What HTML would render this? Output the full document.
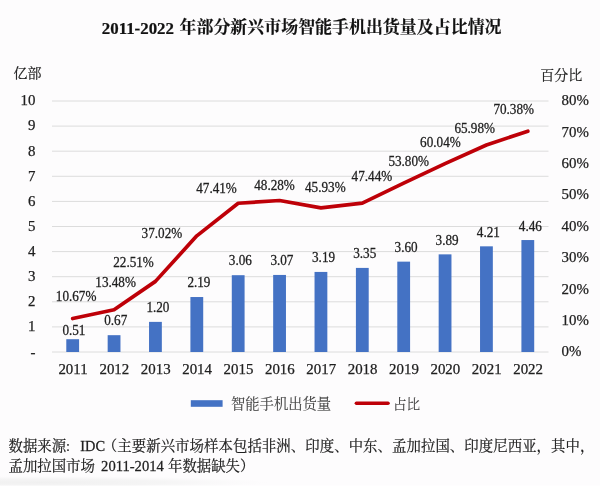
<!DOCTYPE html>
<html><head><meta charset="utf-8"><title>chart</title>
<style>
html,body{margin:0;padding:0;background:#fdfcfd;}
body{width:600px;height:487px;overflow:hidden;font-family:"Liberation Serif",serif;}
svg{display:block;will-change:transform;filter:blur(0.4px);}
</style></head><body>
<svg width="600" height="487" viewBox="0 0 600 487">
<defs><radialGradient id="sh" cx="0.5" cy="0.5" r="0.5"><stop offset="0" stop-color="#f0f0f0"/><stop offset="0.55" stop-color="#f3f3f3" stop-opacity="0.8"/><stop offset="1" stop-color="#f6f6f6" stop-opacity="0"/></radialGradient></defs>
<rect width="600" height="487" fill="#fdfcfd"/>
<ellipse cx="40" cy="482.5" rx="230" ry="6.5" fill="url(#sh)"/>
<rect y="485.6" width="600" height="1.4" fill="#fff"/>
<g stroke="#dcdcdc" stroke-width="1">
<line x1="52.0" y1="352.00" x2="548.5" y2="352.00"/>
<line x1="52.0" y1="326.90" x2="548.5" y2="326.90"/>
<line x1="52.0" y1="301.80" x2="548.5" y2="301.80"/>
<line x1="52.0" y1="276.70" x2="548.5" y2="276.70"/>
<line x1="52.0" y1="251.60" x2="548.5" y2="251.60"/>
<line x1="52.0" y1="226.50" x2="548.5" y2="226.50"/>
<line x1="52.0" y1="201.40" x2="548.5" y2="201.40"/>
<line x1="52.0" y1="176.30" x2="548.5" y2="176.30"/>
<line x1="52.0" y1="151.20" x2="548.5" y2="151.20"/>
<line x1="52.0" y1="126.10" x2="548.5" y2="126.10"/>
<line x1="52.0" y1="101.00" x2="548.5" y2="101.00"/>
</g>
<g fill="#4472c4">
<rect x="66.29" y="339.20" width="12.80" height="12.80"/>
<rect x="107.66" y="335.18" width="12.80" height="16.82"/>
<rect x="149.04" y="321.88" width="12.80" height="30.12"/>
<rect x="190.41" y="297.03" width="12.80" height="54.97"/>
<rect x="231.79" y="275.19" width="12.80" height="76.81"/>
<rect x="273.16" y="274.94" width="12.80" height="77.06"/>
<rect x="314.54" y="271.93" width="12.80" height="80.07"/>
<rect x="355.91" y="267.91" width="12.80" height="84.09"/>
<rect x="397.29" y="261.64" width="12.80" height="90.36"/>
<rect x="438.66" y="254.36" width="12.80" height="97.64"/>
<rect x="480.04" y="246.33" width="12.80" height="105.67"/>
<rect x="521.41" y="240.05" width="12.80" height="111.95"/>
</g>
<polyline points="72.69,318.52 114.06,309.71 155.44,281.37 196.81,235.85 238.19,203.25 279.56,200.52 320.94,207.89 362.31,203.16 403.69,183.20 445.06,163.62 486.44,144.99 527.81,131.18" fill="none" stroke="#be0008" stroke-width="3.7" stroke-linejoin="round" stroke-linecap="round"/>
<g font-family="'Liberation Serif', serif" fill="#202020" stroke="#202020" stroke-width="0.25">
<g font-size="14.9" text-anchor="end">
<text transform="translate(35.50,331.20) scale(1,1.0)">1</text>
<text transform="translate(35.50,306.10) scale(1,1.0)">2</text>
<text transform="translate(35.50,281.00) scale(1,1.0)">3</text>
<text transform="translate(35.50,255.90) scale(1,1.0)">4</text>
<text transform="translate(35.50,230.80) scale(1,1.0)">5</text>
<text transform="translate(35.50,205.70) scale(1,1.0)">6</text>
<text transform="translate(35.50,180.60) scale(1,1.0)">7</text>
<text transform="translate(35.50,155.50) scale(1,1.0)">8</text>
<text transform="translate(35.50,130.40) scale(1,1.0)">9</text>
<text transform="translate(35.50,105.30) scale(1,1.0)">10</text>
<text transform="translate(35.40,356.80) scale(1,1.0)">-</text>
</g>
<g font-size="14.9">
<text transform="translate(561.60,356.30) scale(1,1.0)">0%</text>
<text transform="translate(561.60,324.93) scale(1,1.0)">10%</text>
<text transform="translate(561.60,293.55) scale(1,1.0)">20%</text>
<text transform="translate(561.60,262.18) scale(1,1.0)">30%</text>
<text transform="translate(561.60,230.80) scale(1,1.0)">40%</text>
<text transform="translate(561.60,199.43) scale(1,1.0)">50%</text>
<text transform="translate(561.60,168.05) scale(1,1.0)">60%</text>
<text transform="translate(561.60,136.68) scale(1,1.0)">70%</text>
<text transform="translate(561.60,105.30) scale(1,1.0)">80%</text>
</g>
<g font-size="14.9" text-anchor="middle">
<text transform="translate(72.99,374.20) scale(1,1.0)">2011</text>
<text transform="translate(114.36,374.20) scale(1,1.0)">2012</text>
<text transform="translate(155.74,374.20) scale(1,1.0)">2013</text>
<text transform="translate(197.11,374.20) scale(1,1.0)">2014</text>
<text transform="translate(238.49,374.20) scale(1,1.0)">2015</text>
<text transform="translate(279.86,374.20) scale(1,1.0)">2016</text>
<text transform="translate(321.24,374.20) scale(1,1.0)">2017</text>
<text transform="translate(362.61,374.20) scale(1,1.0)">2018</text>
<text transform="translate(403.99,374.20) scale(1,1.0)">2019</text>
<text transform="translate(445.36,374.20) scale(1,1.0)">2020</text>
<text transform="translate(486.74,374.20) scale(1,1.0)">2021</text>
<text transform="translate(528.11,374.20) scale(1,1.0)">2022</text>
</g>
<g font-size="13.2">
<text transform="translate(55.80,301.40) scale(1,1.03)">10.67%</text>
<text transform="translate(95.30,287.20) scale(1,1.03)">13.48%</text>
<text transform="translate(113.20,266.70) scale(1,1.03)">22.51%</text>
<text transform="translate(141.60,237.70) scale(1,1.03)">37.02%</text>
<text transform="translate(196.20,193.00) scale(1,1.03)">47.41%</text>
<text transform="translate(254.20,190.30) scale(1,1.03)">48.28%</text>
<text transform="translate(305.00,192.00) scale(1,1.03)">45.93%</text>
<text transform="translate(351.60,180.60) scale(1,1.03)">47.44%</text>
<text transform="translate(388.40,165.60) scale(1,1.03)">53.80%</text>
<text transform="translate(420.10,146.80) scale(1,1.03)">60.04%</text>
<text transform="translate(454.40,133.00) scale(1,1.03)">65.98%</text>
<text transform="translate(493.40,113.60) scale(1,1.03)">70.38%</text>
<text transform="translate(62.40,335.40) scale(1,1.03)">0.51</text>
<text transform="translate(104.20,324.70) scale(1,1.03)">0.67</text>
<text transform="translate(146.40,312.00) scale(1,1.03)">1.20</text>
<text transform="translate(187.40,286.60) scale(1,1.03)">2.19</text>
<text transform="translate(228.80,265.30) scale(1,1.03)">3.06</text>
<text transform="translate(270.40,265.30) scale(1,1.03)">3.07</text>
<text transform="translate(312.00,261.60) scale(1,1.03)">3.19</text>
<text transform="translate(353.20,257.80) scale(1,1.03)">3.35</text>
<text transform="translate(394.60,251.60) scale(1,1.03)">3.60</text>
<text transform="translate(435.60,244.80) scale(1,1.03)">3.89</text>
<text transform="translate(476.80,236.60) scale(1,1.03)">4.21</text>
<text transform="translate(518.80,230.60) scale(1,1.03)">4.46</text>
</g>
<text transform="translate(101.80,33.80) scale(1,0.93)" font-size="16.9" font-weight="bold" fill="#111">2011-2022</text>
<text transform="translate(80.20,451.00) scale(1,1.04)" font-size="14.4">IDC</text>
<text transform="translate(101.10,470.60) scale(1,1.05)" font-size="14.6">2011-2014</text>
</g>
<g fill="#202020" stroke="#202020" stroke-width="0.2" font-family="'Liberation Serif', 'Noto Serif CJK SC', serif">
<text x="179.5" y="33.4" font-size="16.9" font-weight="bold" fill="#111" stroke="#111" textLength="322" lengthAdjust="spacing">年部分新兴市场智能手机出货量及占比情况</text>
<text x="13.6" y="77.6" font-size="14">亿部</text>
<text x="540.2" y="79.8" font-size="14">百分比</text>
<text x="231" y="408.6" font-size="14.3" fill="#444" stroke="#444" stroke-width="0.1">智能手机出货量</text>
<text x="393" y="408.5" font-size="13.6" fill="#444" stroke="#444" stroke-width="0.1">占比</text>
<text x="8.5" y="451.2" font-size="14.4">数据来源:</text>
<text x="102.8" y="451.2" font-size="14.4" textLength="491.6" lengthAdjust="spacing">（主要新兴市场样本包括非洲、印度、中东、孟加拉国、印度尼西亚，其中，</text>
<text x="8.5" y="470.6" font-size="14.4">孟加拉国市场</text>
<text x="168" y="470.6" font-size="14.4">年数据缺失）</text>
</g>
<rect x="190.8" y="400.2" width="31.8" height="6.6" fill="#4472c4"/>
<line x1="356.4" y1="403.3" x2="388" y2="403.3" stroke="#be0008" stroke-width="3.6" stroke-linecap="round"/>
</svg>
</body></html>
